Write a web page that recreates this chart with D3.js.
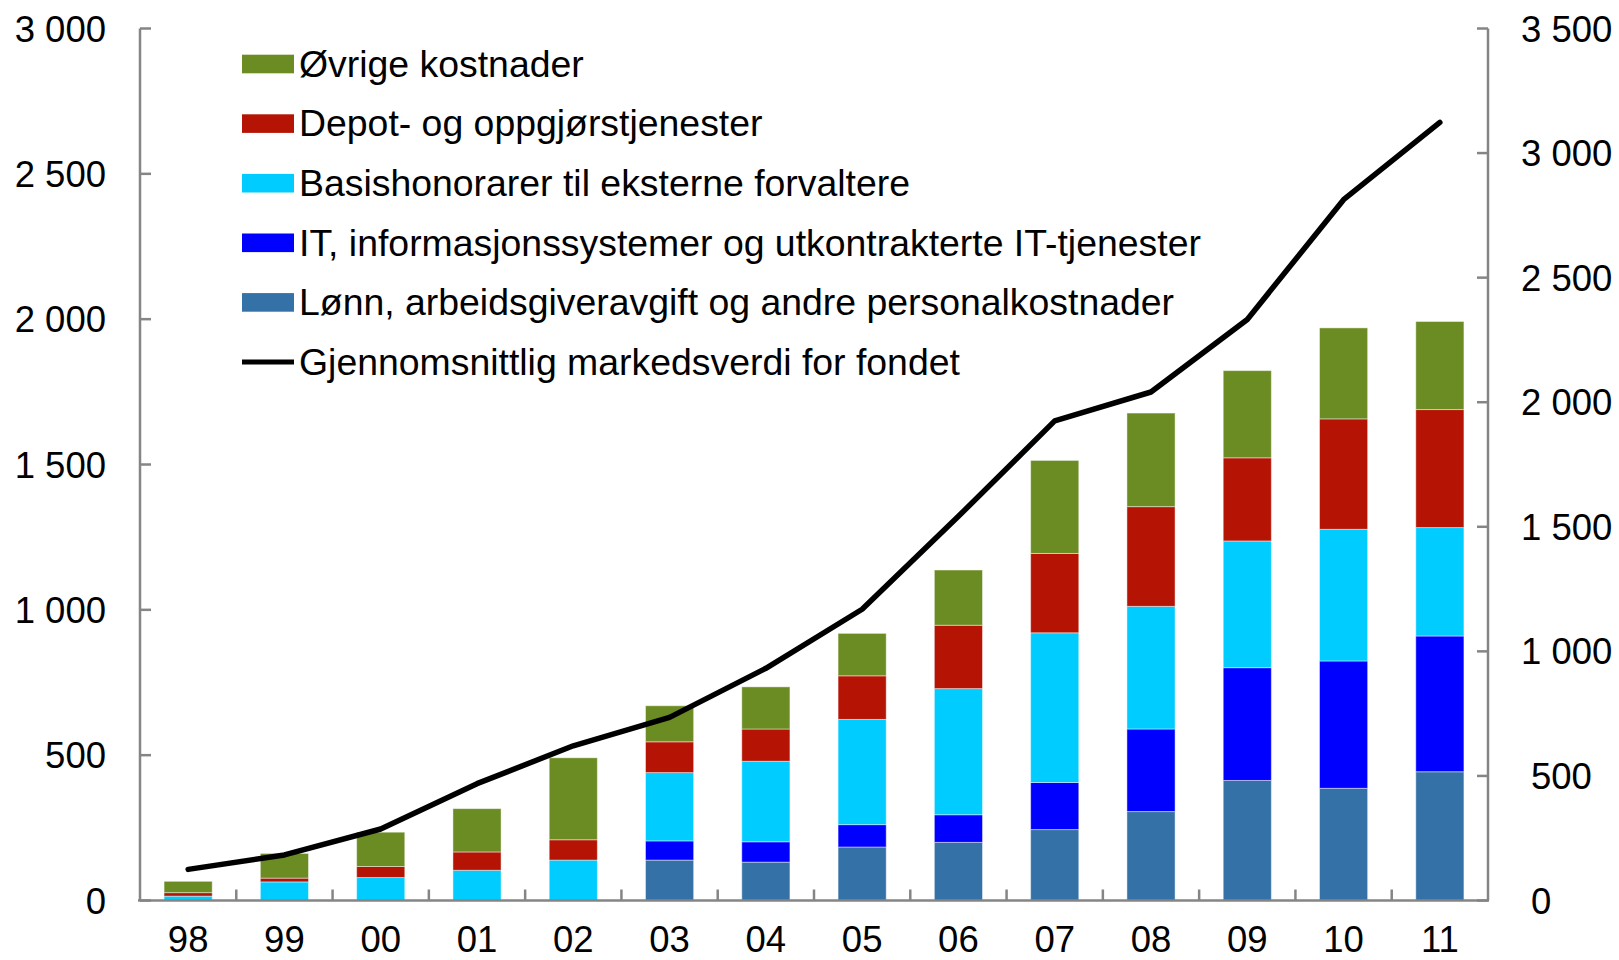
<!DOCTYPE html>
<html>
<head>
<meta charset="utf-8">
<script src="https://cdn.jsdelivr.net/npm/d3@7"></script>
<style>
  html, body { margin: 0; padding: 0; background: #fff; }
  svg { display: block; }
  text { font-family: "Liberation Sans", Arial, sans-serif; fill: #000; }
</style>
</head>
<body>
<svg id="chart" width="1619" height="960"></svg>
<script>
// ---- Data ----
const categories = ["98","99","00","01","02","03","04","05","06","07","08","09","10","11"];
const lonn    = [0, 0, 0, 0, 0, 139, 132, 184, 200, 244, 306, 413, 386, 443];
const it      = [0, 0, 0, 0, 0, 66, 70, 77, 95, 162, 284, 388, 438, 467];
const basis   = [15, 64, 79, 104, 139, 235, 277, 362, 434, 515, 422, 436, 453, 373];
const depot   = [12, 13, 38, 63, 70, 106, 111, 150, 218, 273, 343, 286, 380, 406];
const ovrige  = [39, 85, 118, 149, 282, 124, 145, 146, 190, 320, 322, 300, 313, 303];
const markedsverdi = [125, 183, 287, 469, 621, 735, 932, 1169, 1542, 1925, 2041, 2332, 2813, 3123];

const seriesNames = [
  "Lønn, arbeidsgiveravgift og andre personalkostnader",
  "IT, informasjonssystemer og utkontrakterte IT-tjenester",
  "Basishonorarer til eksterne forvaltere",
  "Depot- og oppgjørstjenester",
  "Øvrige kostnader"
];
const lineName = "Gjennomsnittlig markedsverdi for fondet";
const leftTicks = [0, 500, 1000, 1500, 2000, 2500, 3000];
const rightTicks = [0, 500, 1000, 1500, 2000, 2500, 3000, 3500];

// ---- Styles ----
const colors = ["#3471A6", "#0000FF", "#00CCFF", "#B51405", "#6B8C22"];
const axisColor = "#858585";
const fontSize = 36.5;
const legendFontSize = 37.4;

const svg = d3.select("#chart");
const pLeft = 140, pRight = 1488, pTop = 28.5, pBottom = 900.5;

const x = d3.scaleBand().domain(categories).range([pLeft, pRight]).paddingInner(0.5).paddingOuter(0.25);
const yL = d3.scaleLinear().domain([0, 3000]).range([pBottom, pTop]);
const yR = d3.scaleLinear().domain([0, 3500]).range([pBottom, pTop]);

const fmt = v => d3.format(",")(v).replace(/,/g, " ");

// ---- Stacked bars ----
const rows = categories.map((c, i) => ({
  cat: c, s0: lonn[i], s1: it[i], s2: basis[i], s3: depot[i], s4: ovrige[i]
}));
const stack = d3.stack().keys(["s0","s1","s2","s3","s4"])(rows);

svg.append("g").selectAll("g")
  .data(stack).join("g")
  .attr("fill", (d, i) => colors[i])
  .selectAll("rect")
  .data(d => d.filter(p => p[1] - p[0] > 0))
  .join("rect")
  .attr("x", d => x(d.data.cat))
  .attr("width", x.bandwidth())
  .attr("y", d => yL(d[1]))
  .attr("height", d => yL(d[0]) - yL(d[1]))
  .attr("stroke", "rgba(255,255,255,0.45)")
  .attr("stroke-width", 1);

// ---- Axes ----
const ga = svg.append("g");
ga.append("line").attr("x1", pLeft).attr("x2", pLeft).attr("y1", pTop).attr("y2", pBottom)
  .attr("stroke", axisColor).attr("stroke-width", 2.5);
ga.append("line").attr("x1", pRight).attr("x2", pRight).attr("y1", pTop).attr("y2", pBottom)
  .attr("stroke", axisColor).attr("stroke-width", 2.5);
ga.append("line").attr("x1", pLeft - 2).attr("x2", pRight + 1).attr("y1", pBottom).attr("y2", pBottom)
  .attr("stroke", axisColor).attr("stroke-width", 2.5);

leftTicks.forEach(t => {
  ga.append("line").attr("x1", pLeft).attr("x2", pLeft + 11).attr("y1", yL(t)).attr("y2", yL(t))
    .attr("stroke", axisColor).attr("stroke-width", 2.5);
  ga.append("text").attr("x", 106).attr("y", yL(t)).attr("dy", "0.36em")
    .attr("text-anchor", "end").attr("font-size", fontSize).text(fmt(t));
});
rightTicks.forEach(t => {
  ga.append("line").attr("x1", pRight - 11).attr("x2", pRight).attr("y1", yR(t)).attr("y2", yR(t))
    .attr("stroke", axisColor).attr("stroke-width", 2.5);
  ga.append("text").attr("x", 1521).attr("dx", t < 1000 ? 10 : 0).attr("y", yR(t)).attr("dy", "0.36em")
    .attr("text-anchor", "start").attr("font-size", fontSize).text(fmt(t));
});
for (let i = 1; i < categories.length; i++) {
  const xx = (x(categories[i - 1]) + x(categories[i])) / 2 + x.bandwidth() / 2;
  ga.append("line").attr("x1", xx).attr("x2", xx).attr("y1", pBottom).attr("y2", pBottom - 11)
    .attr("stroke", axisColor).attr("stroke-width", 2.5);
}
categories.forEach(c => {
  ga.append("text").attr("x", x(c) + x.bandwidth() / 2).attr("y", 952)
    .attr("text-anchor", "middle").attr("font-size", fontSize).text(c);
});

// ---- Line ----
const line = d3.line()
  .x((d, i) => x(categories[i]) + x.bandwidth() / 2)
  .y(d => yR(d));
svg.append("path").datum(markedsverdi)
  .attr("d", line).attr("fill", "none").attr("stroke", "#000")
  .attr("stroke-width", 5.5).attr("stroke-linejoin", "round").attr("stroke-linecap", "round");

// ---- Legend ----
const legendItems = [
  { name: seriesNames[4], color: colors[4] },
  { name: seriesNames[3], color: colors[3] },
  { name: seriesNames[2], color: colors[2] },
  { name: seriesNames[1], color: colors[1] },
  { name: seriesNames[0], color: colors[0] },
  { name: lineName, line: true }
];
const lg = svg.append("g");
legendItems.forEach((d, i) => {
  const cy = 64 + i * 59.6;
  if (d.line) {
    lg.append("line").attr("x1", 242).attr("x2", 294).attr("y1", cy).attr("y2", cy)
      .attr("stroke", "#000").attr("stroke-width", 5);
  } else {
    lg.append("rect").attr("x", 242).attr("y", cy - 9.3).attr("width", 52).attr("height", 18.6)
      .attr("fill", d.color);
  }
  lg.append("text").attr("x", 299).attr("y", cy).attr("dy", "0.34em")
    .attr("font-size", legendFontSize).text(d.name);
});
</script>
</body>
</html>
